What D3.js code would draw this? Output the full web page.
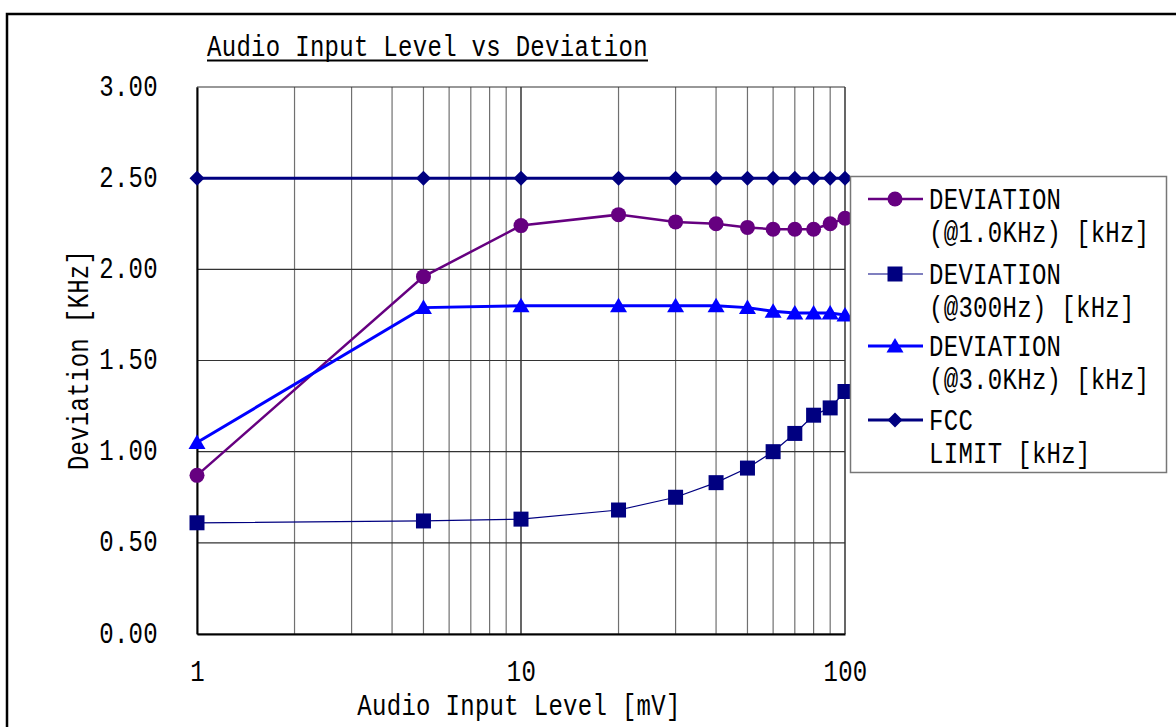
<!DOCTYPE html>
<html>
<head>
<meta charset="utf-8">
<script src="https://cdn.jsdelivr.net/npm/d3@7"></script>
<style>
  html, body { margin: 0; padding: 0; background: #fff; }
  svg { display: block; }
  text { font-family: "Liberation Mono", "DejaVu Sans Mono", monospace; font-size: 24px; fill: #000; letter-spacing: 0.3px; }
</style>
</head>
<body>
<svg id="chart" width="1176" height="727"></svg>
<script>
// ---- data ----
const inputLevels = [1, 5, 10, 20, 30, 40, 50, 60, 70, 80, 90, 100];
const dev1k   = [0.87, 1.96, 2.24, 2.30, 2.26, 2.25, 2.23, 2.22, 2.22, 2.22, 2.25, 2.28];
const dev300  = [0.61, 0.62, 0.63, 0.68, 0.75, 0.83, 0.91, 1.00, 1.10, 1.20, 1.24, 1.33];
const dev3k   = [1.05, 1.79, 1.80, 1.80, 1.80, 1.80, 1.79, 1.77, 1.76, 1.76, 1.76, 1.75];
const fccLimit = [2.50, 2.50, 2.50, 2.50, 2.50, 2.50, 2.50, 2.50, 2.50, 2.50, 2.50, 2.50];
const yTicks = [0, 0.5, 1.0, 1.5, 2.0, 2.5, 3.0];
const xTicks = [1, 10, 100];
const xGrid = [1,2,3,4,5,6,7,8,9,10,20,30,40,50,60,70,80,90,100];
const titleText = "Audio Input Level vs Deviation";
const xTitle = "Audio Input Level [mV]";
const yTitle = "Deviation [KHz]";
const seriesNames = [
  ["DEVIATION", "(@1.0KHz) [kHz]"],
  ["DEVIATION", "(@300Hz) [kHz]"],
  ["DEVIATION", "(@3.0KHz) [kHz]"],
  ["FCC", "LIMIT [kHz]"]
];

const SY = 1.25; // vertical stretch of glyphs to imitate narrow gothic font

const series = [
  { name: seriesNames[0], values: dev1k,    color: "#660080", width: 2.5, marker: "circle" },
  { name: seriesNames[1], values: dev300,   color: "#000080", width: 1.2, marker: "square" },
  { name: seriesNames[2], values: dev3k,    color: "#0000ff", width: 3,   marker: "triangle" },
  { name: seriesNames[3], values: fccLimit, color: "#000080", width: 3,   marker: "diamond" }
];

const svg = d3.select("#chart");

// outer frame
svg.append("path")
  .attr("d", "M7,740 L7,14 L1190,14")
  .attr("fill", "none").attr("stroke", "#000").attr("stroke-width", 2.5);

const x = d3.scaleLog().domain([1, 100]).range([197, 845]);
const y = d3.scaleLinear().domain([0, 3]).range([634, 87]);

function stretchedText(parent, tx, ty, str, anchor, rotate) {
  const g = parent.append("g")
    .attr("transform", `translate(${tx},${ty})` + (rotate ? ` rotate(${rotate})` : "") + ` scale(1,${SY})`);
  g.append("text").attr("x", 0).attr("y", 0).attr("text-anchor", anchor || "start").text(str);
  return g;
}

// gridlines
const grid = svg.append("g");
grid.selectAll("line.v").data(xGrid).join("line")
  .attr("class", "v")
  .attr("x1", d => x(d)).attr("x2", d => x(d))
  .attr("y1", y(3)).attr("y2", y(0))
  .attr("stroke", d => (d === 10 || d === 100) ? "#000" : "#707070")
  .attr("stroke-width", 1.2);
grid.selectAll("line.h").data(yTicks).join("line")
  .attr("class", "h")
  .attr("x1", x(1)).attr("x2", x(100))
  .attr("y1", d => y(d)).attr("y2", d => y(d))
  .attr("stroke", "#333").attr("stroke-width", 1.2);

// axes
const yAxis = svg.append("g").attr("transform", `translate(${x(1)},0)`)
  .call(d3.axisLeft(y).tickValues(yTicks).tickFormat(d3.format(".2f")).tickSize(0).tickPadding(39));
yAxis.select(".domain").attr("stroke", "#000").attr("stroke-width", 2);
yAxis.selectAll("text")
  .attr("font-family", null).attr("font-size", null)
  .attr("dy", 0).attr("y", 8 / SY)
  .attr("transform", `scale(1,${SY})`);

const xAxis = svg.append("g").attr("transform", `translate(0,${y(0)})`)
  .call(d3.axisBottom(x).tickValues(xTicks).tickFormat(d3.format("d")).tickSize(0));
xAxis.select(".domain").attr("stroke", "#000").attr("stroke-width", 2);
xAxis.selectAll("text")
  .attr("font-family", null).attr("font-size", null)
  .attr("dy", 0).attr("y", 47 / SY)
  .attr("transform", `scale(1,${SY})`);

// titles
stretchedText(svg, 207, 56, titleText, "start");
svg.append("line").attr("x1", 207).attr("x2", 648).attr("y1", 60.5).attr("y2", 60.5)
  .attr("stroke", "#000").attr("stroke-width", 2);
stretchedText(svg, 519, 715, xTitle, "middle");
stretchedText(svg, 88, 360, yTitle, "middle", -90);

// markers
function markerPath(type) {
  switch (type) {
    case "circle": return d3.symbol(d3.symbolCircle, Math.PI * 7.5 * 7.5)();
    case "square": return "M-7.5,-7.5H7.5V7.5H-7.5Z";
    case "triangle": return "M0,-8L8.5,6.5L-8.5,6.5Z";
    case "diamond": return "M0,-7.5L7.5,0L0,7.5L-7.5,0Z";
  }
}

const line = d3.line().x(d => x(d[0])).y(d => y(d[1]));

series.forEach(s => {
  const pts = inputLevels.map((v, i) => [v, s.values[i]]);
  svg.append("path").datum(pts)
    .attr("d", line).attr("fill", "none")
    .attr("stroke", s.color).attr("stroke-width", s.width);
  svg.append("g").selectAll("path").data(pts).join("path")
    .attr("transform", d => `translate(${x(d[0])},${y(d[1])})`)
    .attr("d", markerPath(s.marker))
    .attr("fill", s.color);
});

// legend
const legend = svg.append("g");
legend.append("rect").attr("x", 850.5).attr("y", 176.5).attr("width", 316).attr("height", 296)
  .attr("fill", "#fff").attr("stroke", "#777").attr("stroke-width", 1.5);
const legendY = [199, 274, 346, 420];
series.forEach((s, i) => {
  const ly = legendY[i];
  legend.append("line").attr("x1", 868).attr("x2", 923).attr("y1", ly).attr("y2", ly)
    .attr("stroke", s.color).attr("stroke-width", s.width);
  legend.append("path").attr("transform", `translate(895,${ly})`)
    .attr("d", markerPath(s.marker)).attr("fill", s.color);
  stretchedText(legend, 929, ly + 10, s.name[0], "start");
  stretchedText(legend, 929, ly + 43, s.name[1], "start");
});
</script>
</body>
</html>
